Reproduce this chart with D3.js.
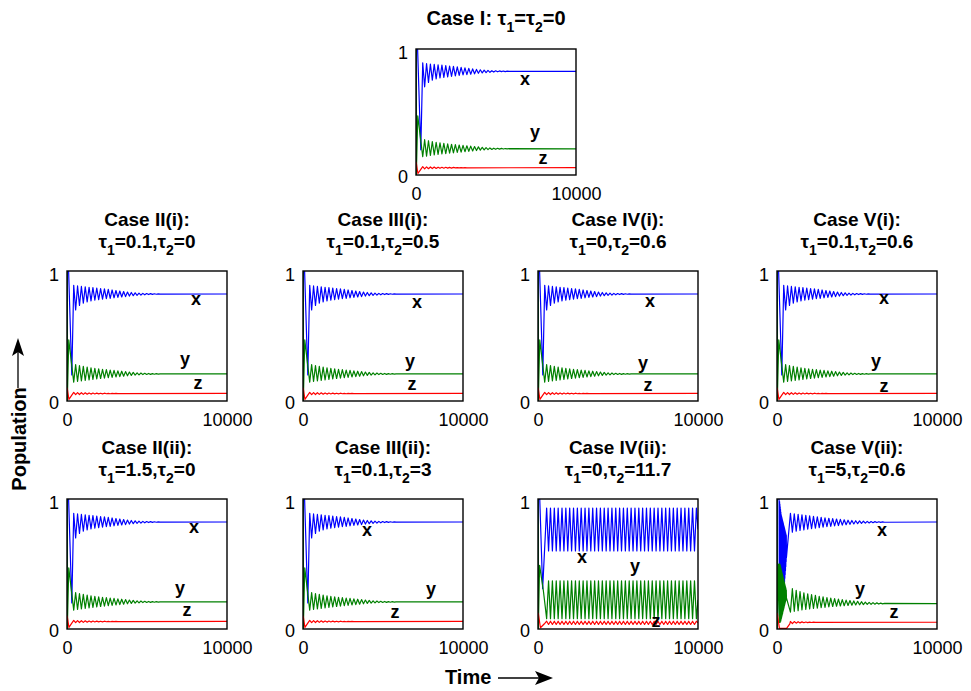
<!DOCTYPE html>
<html>
<head>
<meta charset="utf-8">
<script src="https://cdn.jsdelivr.net/npm/d3@7/dist/d3.min.js"></script>
<style>
  html, body { margin: 0; padding: 0; background: #fff; }
  svg { display: block; font-family: "Liberation Sans", Arial, Helvetica, sans-serif; }
</style>
</head>
<body>
<svg id="chart" width="971" height="691"></svg>
<script>
// ---------------- data ----------------
const caseNames = ["Case I", "Case II(i)", "Case III(i)", "Case IV(i)", "Case V(i)",
                   "Case II(ii)", "Case III(ii)", "Case IV(ii)", "Case V(ii)"];
const tau1 = [0, 0.1, 0.1, 0, 0.1, 1.5, 0.1, 0, 5];
const tau2 = [0, 0, 0.5, 0.6, 0.6, 0, 3, 11.7, 0.6];
const timeTicks = [0, 10000];
const popTicks = [0, 1];
const seriesNames = ["x", "y", "z"];

// Stable cases: transient, then damped oscillation (turning points every half period)
const stableLeadX = [[0, 0.02], [25, 1], [100, 1], [300, 0.2]];
const stableLeadY = [[0, 0], [8, 1], [20, 0], [110, 0.47]];
const stableLeadZ = [[0, 0.1], [15, 0.1], [120, 0.012], [300, 0.045]];
const stableStart = 420, stableHalf = 120;
const stableX = [
  0.890, 0.700, 0.885, 0.735, 0.881, 0.752, 0.878, 0.762, 0.875, 0.770, 0.872, 0.775,
  0.868, 0.779, 0.865, 0.783, 0.862, 0.787, 0.858, 0.790, 0.854, 0.794, 0.850, 0.797,
  0.846, 0.800, 0.842, 0.803, 0.838, 0.807, 0.835, 0.810, 0.832, 0.813, 0.830, 0.815,
  0.828, 0.817, 0.827, 0.819, 0.826, 0.820, 0.825, 0.821, 0.824, 0.822];
const stableY = [
  0.145, 0.280, 0.150, 0.272, 0.155, 0.266, 0.159, 0.260, 0.163, 0.255, 0.167, 0.251,
  0.170, 0.247, 0.173, 0.244, 0.176, 0.241, 0.179, 0.238, 0.182, 0.235, 0.185, 0.232,
  0.188, 0.229, 0.191, 0.226, 0.194, 0.223, 0.197, 0.220, 0.199, 0.217, 0.201, 0.215,
  0.203, 0.213, 0.204, 0.212, 0.205, 0.211, 0.206, 0.210, 0.207, 0.209];
const stableZ = [
  0.066, 0.049, 0.065, 0.050, 0.064, 0.051, 0.063, 0.052, 0.062, 0.053, 0.061, 0.054,
  0.061, 0.055, 0.060, 0.055, 0.060, 0.056, 0.059, 0.056, 0.059, 0.057, 0.058, 0.057];
const stableEnd = [0.823, 0.208, 0.058];

// Case IV(ii): sustained oscillation (limit cycle)
const cycLeadX = [[0, 0.02], [25, 1], [110, 1], [290, 0.31]];
const cycLeadY = [[0, 0], [8, 1], [20, 0], [100, 0.49], [330, 0.30]];
const cycLeadZ = [[0, 0.12], [20, 0.12], [150, 0.01], [400, 0.04]];
const cycStart = 540, cycHalf = 120;
const cycX = [
  0.93, 0.60, 0.93, 0.60, 0.93, 0.60, 0.93, 0.60, 0.93, 0.60, 0.93, 0.60, 0.93, 0.60, 0.93, 0.60,
  0.93, 0.60, 0.93, 0.60, 0.93, 0.60, 0.93, 0.60, 0.93, 0.60, 0.93, 0.60, 0.93, 0.60, 0.93, 0.60,
  0.93, 0.60, 0.93, 0.60, 0.93, 0.60, 0.93, 0.60, 0.93, 0.60, 0.93, 0.60, 0.93, 0.60, 0.93, 0.60,
  0.93, 0.60, 0.93, 0.60, 0.93, 0.60, 0.93, 0.60, 0.93, 0.60, 0.93, 0.60, 0.93, 0.60, 0.93, 0.60,
  0.93, 0.60, 0.93, 0.60, 0.93, 0.60, 0.93, 0.60, 0.93, 0.60, 0.93, 0.60, 0.93, 0.60, 0.93];
const cycY = [
  0.08, 0.37, 0.08, 0.37, 0.08, 0.37, 0.08, 0.37, 0.08, 0.37, 0.08, 0.37, 0.08, 0.37, 0.08, 0.37,
  0.08, 0.37, 0.08, 0.37, 0.08, 0.37, 0.08, 0.37, 0.08, 0.37, 0.08, 0.37, 0.08, 0.37, 0.08, 0.37,
  0.08, 0.37, 0.08, 0.37, 0.08, 0.37, 0.08, 0.37, 0.08, 0.37, 0.08, 0.37, 0.08, 0.37, 0.08, 0.37,
  0.08, 0.37, 0.08, 0.37, 0.08, 0.37, 0.08, 0.37, 0.08, 0.37, 0.08, 0.37, 0.08, 0.37, 0.08, 0.37,
  0.08, 0.37, 0.08, 0.37, 0.08, 0.37, 0.08, 0.37, 0.08, 0.37, 0.08, 0.37, 0.08, 0.37, 0.08];
const cycZ = [
  0.060, 0.035, 0.060, 0.035, 0.060, 0.035, 0.060, 0.035, 0.060, 0.035, 0.060, 0.035, 0.060, 0.035,
  0.060, 0.035, 0.060, 0.035, 0.060, 0.035, 0.060, 0.035, 0.060, 0.035, 0.060, 0.035, 0.060, 0.035,
  0.060, 0.035, 0.060, 0.035, 0.060, 0.035, 0.060, 0.035, 0.060, 0.035, 0.060, 0.035, 0.060, 0.035,
  0.060, 0.035, 0.060, 0.035, 0.060, 0.035, 0.060, 0.035, 0.060, 0.035, 0.060, 0.035, 0.060, 0.035,
  0.060, 0.035, 0.060, 0.035, 0.060, 0.035, 0.060, 0.035, 0.060, 0.035, 0.060, 0.035, 0.060, 0.035,
  0.060, 0.035, 0.060, 0.035, 0.060, 0.035, 0.060, 0.035, 0.060];
const cycEnd = [0.765, 0.225, 0.048];

// Case V(ii): fast burst after the delay, then damped oscillation
const burstLeadX = [[0, 0.02], [25, 1], [130, 1]];
const burstLeadY = [[0, 0], [8, 1], [20, 0], [100, 0.5]];
const burstLeadZ = [[0, 0.12], [20, 0.12], [150, 0.005], [600, 0.005], [800, 0.04]];
const burstStart = 150, burstHalf = 10;
const burstX = [0.10, 0.98, 0.08, 0.96, 0.07, 0.94, 0.07, 0.92, 0.08, 0.90, 0.09, 0.88, 0.10, 0.87,
  0.12, 0.86, 0.14, 0.85, 0.16, 0.84, 0.18, 0.83, 0.21, 0.82, 0.24, 0.81, 0.27, 0.80, 0.30, 0.79,
  0.33, 0.78, 0.36, 0.77, 0.39, 0.76, 0.42, 0.75, 0.45, 0.74, 0.48, 0.73, 0.52, 0.72, 0.55];
const burstY = [0.05, 0.50, 0.05, 0.50, 0.05, 0.49, 0.06, 0.48, 0.06, 0.47, 0.07, 0.46, 0.08, 0.45,
  0.09, 0.44, 0.10, 0.43, 0.11, 0.42, 0.12, 0.41, 0.13, 0.40, 0.14, 0.39, 0.15, 0.38, 0.16, 0.37,
  0.17, 0.36, 0.18, 0.35, 0.19, 0.34, 0.20, 0.33, 0.21, 0.32, 0.22, 0.31, 0.23, 0.30, 0.24];
const lateStart = 840, lateHalf = 120;
const lateX = [
  0.890, 0.745, 0.886, 0.752, 0.882, 0.758, 0.878, 0.763, 0.874, 0.768, 0.870, 0.772,
  0.866, 0.776, 0.862, 0.780, 0.858, 0.784, 0.855, 0.787, 0.852, 0.790, 0.849, 0.793,
  0.846, 0.796, 0.843, 0.799, 0.840, 0.802, 0.837, 0.805, 0.835, 0.808, 0.833, 0.810,
  0.831, 0.812, 0.829, 0.814, 0.828, 0.816, 0.827, 0.818, 0.826, 0.819, 0.825, 0.820,
  0.824, 0.821];
const lateY = [
  0.130, 0.310, 0.136, 0.298, 0.141, 0.288, 0.146, 0.279, 0.150, 0.271, 0.154, 0.264,
  0.158, 0.258, 0.161, 0.252, 0.164, 0.247, 0.167, 0.242, 0.170, 0.238, 0.173, 0.234,
  0.175, 0.230, 0.177, 0.226, 0.179, 0.222, 0.181, 0.219, 0.183, 0.216, 0.185, 0.213,
  0.186, 0.210, 0.188, 0.207, 0.189, 0.205, 0.190, 0.203, 0.191, 0.201, 0.192, 0.199,
  0.193, 0.197];
const lateZ = [0.058, 0.042, 0.057, 0.045, 0.056, 0.047, 0.055, 0.048, 0.054, 0.049,
  0.053, 0.050, 0.053, 0.051];
const lateEnd = [0.823, 0.195, 0.052];

// ---------------- layout ----------------
const svg = d3.select("#chart");
const colors = ["#0000ff", "#008000", "#ff0000"];
const topPanel = { x: 416, y: 49, w: 160, h: 126 };
const colLeft = [67, 303, 538, 777];
const rowTop = [271, 499];
const panelW = 160, panelH = 130;

const panels = caseNames.map((name, i) => {
  if (i === 0) return Object.assign({}, topPanel);
  const r = i <= 4 ? 0 : 1, c = (i - 1) % 4;
  return { x: colLeft[c], y: rowTop[r], w: panelW, h: panelH };
});

// label anchor points for x, y, z in data coordinates [time, population]
const labelSpots = [
  [[6810, 0.754], [7440, 0.333], [7940, 0.127]],
  [[8060, 0.777], [7380, 0.315], [8190, 0.131]],
  [[7130, 0.754], [6690, 0.300], [6810, 0.123]],
  [[7000, 0.762], [6560, 0.285], [6880, 0.115]],
  [[6690, 0.785], [6190, 0.300], [6690, 0.108]],
  [[7940, 0.775], [7060, 0.310], [7500, 0.140]],
  [[4000, 0.752], [8000, 0.302], [5750, 0.124]],
  [[2750, 0.543], [6060, 0.480], [7380, 0.054]],
  [[6560, 0.752], [5190, 0.302], [7310, 0.124]]
];

// ---------------- helpers ----------------
function turning(start, half, vals) {
  return vals.map((v, i) => [start + i * half, v]);
}
function buildSeries(kind) {
  if (kind === "burst") {
    return [
      burstLeadX.concat(turning(burstStart, burstHalf, burstX), turning(lateStart, lateHalf, lateX), [[10000, lateEnd[0]]]),
      burstLeadY.concat(turning(burstStart, burstHalf, burstY), turning(lateStart, lateHalf, lateY), [[10000, lateEnd[1]]]),
      burstLeadZ.concat(turning(lateStart, lateHalf, lateZ), [[10000, lateEnd[2]]])
    ];
  }
  if (kind === "cycle") {
    return [
      cycLeadX.concat(turning(cycStart, cycHalf, cycX), [[10000, cycEnd[0]]]),
      cycLeadY.concat(turning(cycStart, cycHalf, cycY), [[10000, cycEnd[1]]]),
      cycLeadZ.concat(turning(cycStart, cycHalf, cycZ), [[10000, cycEnd[2]]])
    ];
  }
  return [
    stableLeadX.concat(turning(stableStart, stableHalf, stableX), [[10000, stableEnd[0]]]),
    stableLeadY.concat(turning(stableStart, stableHalf, stableY), [[10000, stableEnd[1]]]),
    stableLeadZ.concat(turning(stableStart, stableHalf, stableZ), [[10000, stableEnd[2]]])
  ];
}
const fmt = v => String(v);

// appends runs of text to a <text>; subscripts are lowered and shrunk
function addRuns(textSel, parts) {
  parts.forEach(([t, sub], k) => {
    const prevSub = k > 0 && parts[k - 1][1];
    const ts = textSel.append("tspan").text(t);
    if (sub) ts.attr("font-size", 14).attr("dy", prevSub ? 0 : 7);
    else if (prevSub) ts.attr("dy", -7);
  });
}

// ---------------- draw panels ----------------
panels.forEach((p, i) => {
  const g = svg.append("g").attr("transform", `translate(${p.x},${p.y})`);
  const xs = d3.scaleLinear().domain([0, 10000]).range([0, p.w]);
  const ys = d3.scaleLinear().domain([0, 1]).range([p.h, 0]);

  const kind = i === 7 ? "cycle" : i === 8 ? "burst" : "stable";
  const series = buildSeries(kind);
  const line = d3.line().x(d => xs(d[0])).y(d => ys(d[1]));

  g.append("defs").append("clipPath").attr("id", "clip" + i)
    .append("rect").attr("width", p.w).attr("height", p.h);
  const plot = g.append("g").attr("clip-path", `url(#clip${i})`);
  series.forEach((s, k) => {
    plot.append("path").attr("d", line(s)).attr("fill", "none")
      .attr("stroke", colors[k]).attr("stroke-width", 1.2).attr("stroke-linejoin", "round");
  });

  // frame
  g.append("rect").attr("width", p.w).attr("height", p.h)
    .attr("fill", "none").attr("stroke", "#000").attr("stroke-width", 1.4);

  // axes (tick labels only)
  const yAxis = d3.axisLeft(ys).tickValues(popTicks).tickSize(0).tickPadding(8).tickFormat(fmt);
  const ya = g.append("g").call(yAxis);
  ya.select(".domain").remove();
  ya.selectAll("text").attr("font-size", 18).attr("font-family", "Liberation Sans, Arial, sans-serif")
    .attr("fill", "#000").attr("dy", (d) => d === 1 ? "0.5em" : "0.42em");

  const xAxis = d3.axisBottom(xs).tickValues(timeTicks).tickSize(0).tickPadding(12).tickFormat(fmt);
  const xa = g.append("g").attr("transform", `translate(0,${p.h})`).call(xAxis);
  xa.select(".domain").remove();
  xa.selectAll("text").attr("font-size", 18).attr("font-family", "Liberation Sans, Arial, sans-serif")
    .attr("fill", "#000");

  // series labels
  labelSpots[i].forEach((pt, k) => {
    g.append("text").attr("x", xs(pt[0])).attr("y", ys(pt[1]) + 5)
      .attr("text-anchor", "middle").attr("font-size", 18).attr("font-weight", "bold")
      .text(seriesNames[k]);
  });

  // titles
  const cx = p.w / 2;
  if (i === 0) {
    const t = g.append("text").attr("x", cx).attr("y", -24).attr("text-anchor", "middle")
      .attr("font-size", 20).attr("font-weight", "bold");
    addRuns(t, [[caseNames[i] + ": τ", false], ["1", true], ["=τ", false], ["2", true], ["=" + fmt(tau2[i]), false]]);
  } else {
    g.append("text").attr("x", cx).attr("y", -45).attr("text-anchor", "middle")
      .attr("font-size", 19).attr("font-weight", "bold").text(caseNames[i] + ":");
    const t = g.append("text").attr("x", cx).attr("y", -23.3).attr("text-anchor", "middle")
      .attr("font-size", 19).attr("font-weight", "bold");
    addRuns(t, [["τ", false], ["1", true], ["=" + fmt(tau1[i]) + ",τ", false], ["2", true], ["=" + fmt(tau2[i]), false]]);
  }
});

// ---------------- axis titles with arrows ----------------
svg.append("text").attr("transform", "translate(25.5,439) rotate(-90)")
  .attr("text-anchor", "middle").attr("font-size", 20).attr("font-weight", "bold").text("Population");
svg.append("line").attr("x1", 18).attr("y1", 388).attr("x2", 18).attr("y2", 350)
  .attr("stroke", "#000").attr("stroke-width", 1.3);
svg.append("path").attr("d", "M18,338 L24,356 L18,352 L12,356 Z").attr("fill", "#000");

svg.append("text").attr("x", 445).attr("y", 684).attr("font-size", 20).attr("font-weight", "bold").text("Time");
svg.append("line").attr("x1", 498).attr("y1", 678).attr("x2", 540).attr("y2", 678)
  .attr("stroke", "#000").attr("stroke-width", 1.3);
svg.append("path").attr("d", "M553,678 L535,671 L539,678 L535,685 Z").attr("fill", "#000");
</script>
</body>
</html>
